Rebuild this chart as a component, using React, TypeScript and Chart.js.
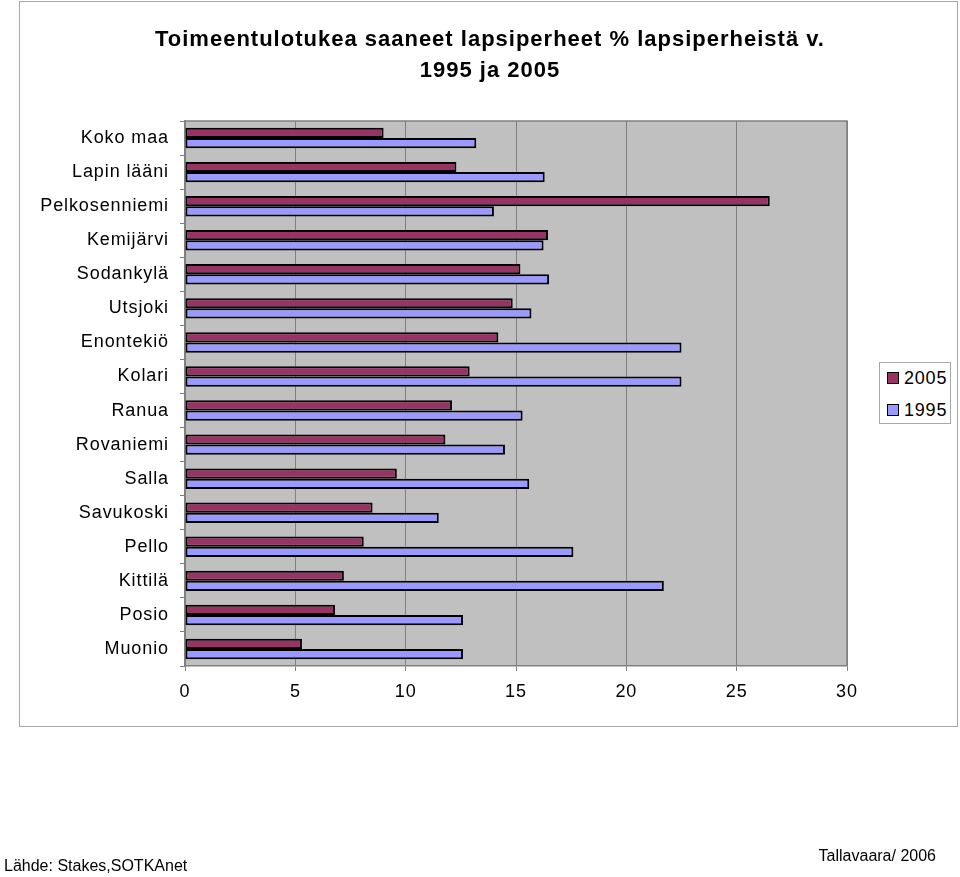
import React, { useEffect, useRef } from "react";
import { Chart, registerables } from "chart.js";

Chart.register(...registerables);

const categories = [
  "Koko maa",
  "Lapin lääni",
  "Pelkosenniemi",
  "Kemijärvi",
  "Sodankylä",
  "Utsjoki",
  "Enontekiö",
  "Kolari",
  "Ranua",
  "Rovaniemi",
  "Salla",
  "Savukoski",
  "Pello",
  "Kittilä",
  "Posio",
  "Muonio",
];

const values2005 = [9.0, 12.3, 26.5, 16.45, 15.2, 14.85, 14.2, 12.9, 12.1, 11.8, 9.6, 8.5, 8.1, 7.2, 6.8, 5.3];
const values1995 = [13.2, 16.3, 14.0, 16.25, 16.5, 15.7, 22.5, 22.5, 15.3, 14.5, 15.6, 11.5, 17.6, 21.7, 12.6, 12.6];

const seriesLabels = ["2005", "1995"];
const titleLine1 = "Toimeentulotukea saaneet lapsiperheet % lapsiperheistä v.";
const titleLine2 = "1995 ja 2005";
const sourceText = "Lähde: Stakes,SOTKAnet";
const authorText = "Tallavaara/ 2006";

const COLOR_2005 = "#993366";
const COLOR_1995 = "#9999FF";
const FONT = "'Liberation Sans', Arial, sans-serif";

const plotBg = {
  id: "plotBg",
  beforeDraw(chart: any) {
    const { ctx, chartArea } = chart;
    (ctx as any).letterSpacing = "0.9px";
    ctx.save();
    ctx.fillStyle = "#C0C0C0";
    ctx.fillRect(chartArea.left, chartArea.top, chartArea.right - chartArea.left, chartArea.bottom - chartArea.top);
    ctx.restore();
  },
  afterDraw(chart: any) {
    const { ctx, chartArea } = chart;
    ctx.save();
    ctx.strokeStyle = "#808080";
    ctx.lineWidth = 1.5;
    ctx.beginPath();
    ctx.moveTo(chartArea.left, chartArea.top);
    ctx.lineTo(chartArea.right, chartArea.top);
    ctx.lineTo(chartArea.right, chartArea.bottom);
    ctx.stroke();
    ctx.restore();
  },
};

export default function App() {
  const ref = useRef<HTMLCanvasElement | null>(null);

  useEffect(() => {
    if (!ref.current) return;
    const chart = new Chart(ref.current, {
      type: "bar",
      data: {
        labels: categories,
        datasets: [
          {
            label: seriesLabels[0],
            data: values2005,
            backgroundColor: COLOR_2005,
            borderColor: "#000000",
            borderWidth: 2,
            borderSkipped: false,
            categoryPercentage: 0.6,
            barPercentage: 1.0,
          },
          {
            label: seriesLabels[1],
            data: values1995,
            backgroundColor: COLOR_1995,
            borderColor: "#000000",
            borderWidth: 2,
            borderSkipped: false,
            categoryPercentage: 0.6,
            barPercentage: 1.0,
          },
        ],
      },
      options: {
        indexAxis: "y",
        responsive: false,
        maintainAspectRatio: false,
        animation: false,
        layout: { padding: { top: 121, right: 113, left: 0, bottom: 0 } },
        plugins: {
          legend: { display: false },
          title: { display: false },
          tooltip: { enabled: false },
        },
        scales: {
          x: {
            min: 0,
            max: 30,
            ticks: {
              stepSize: 5,
              color: "#000",
              font: { family: FONT, size: 18 },
              padding: 10,
            },
            grid: {
              color: "#808080",
              lineWidth: 1,
              tickLength: 5,
              drawTicks: true,
            },
            border: { display: true, color: "#808080", width: 1.5 },
            afterFit(scale: any) {
              scale.height = 211;
            },
          },
          y: {
            ticks: {
              color: "#000",
              font: { family: FONT, size: 18 },
              padding: 11,
            },
            grid: {
              drawOnChartArea: false,
              drawTicks: true,
              tickLength: 5,
              color: "#808080",
              offset: true,
            },
            border: { display: true, color: "#808080", width: 1.5 },
            afterFit(scale: any) {
              scale.width = 185;
            },
          },
        },
      },
      plugins: [plotBg],
    });
    return () => chart.destroy();
  }, []);

  const abs = (s: React.CSSProperties): React.CSSProperties => ({ position: "absolute", ...s });

  return (
    <div style={abs({ left: 0, top: 0, width: 960, height: 877, background: "#fff", fontFamily: FONT, overflow: "hidden" })}>
      <div style={abs({ left: 19, top: 1, width: 937, height: 724, border: "1px solid #a8a8a8" })} />
      <canvas ref={ref} width={960} height={877} style={abs({ left: 0, top: 0, width: 960, height: 877 })} />
      <div style={abs({ left: 90, top: 25, width: 800, textAlign: "center", fontWeight: "bold", fontSize: 22, lineHeight: "28px", letterSpacing: "1px", color: "#000", whiteSpace: "nowrap" })}>
        {titleLine1}
      </div>
      <div style={abs({ left: 90, top: 56, width: 800, textAlign: "center", fontWeight: "bold", fontSize: 22, lineHeight: "28px", letterSpacing: "1px", color: "#000", whiteSpace: "nowrap" })}>
        {titleLine2}
      </div>
      <div style={abs({ left: 879, top: 362, width: 70, height: 60, border: "1px solid #a8a8a8", background: "#fff" })}>
        {seriesLabels.map((lab, i) => (
          <div key={lab} style={abs({ left: 7, top: 4 + i * 32, height: 22, display: "flex", alignItems: "center" })}>
            <span style={{ display: "inline-block", width: 10, height: 10, background: i === 0 ? COLOR_2005 : COLOR_1995, border: "1px solid #000", marginRight: 5 }} />
            <span style={{ fontSize: 18, letterSpacing: "0.8px", color: "#000" }}>{lab}</span>
          </div>
        ))}
      </div>
      <div style={abs({ left: 4, top: 856, fontSize: 16, lineHeight: "20px", color: "#000", whiteSpace: "nowrap" })}>{sourceText}</div>
      <div style={abs({ right: 24, top: 846, fontSize: 16, lineHeight: "20px", color: "#000", whiteSpace: "nowrap" })}>{authorText}</div>
    </div>
  );
}
